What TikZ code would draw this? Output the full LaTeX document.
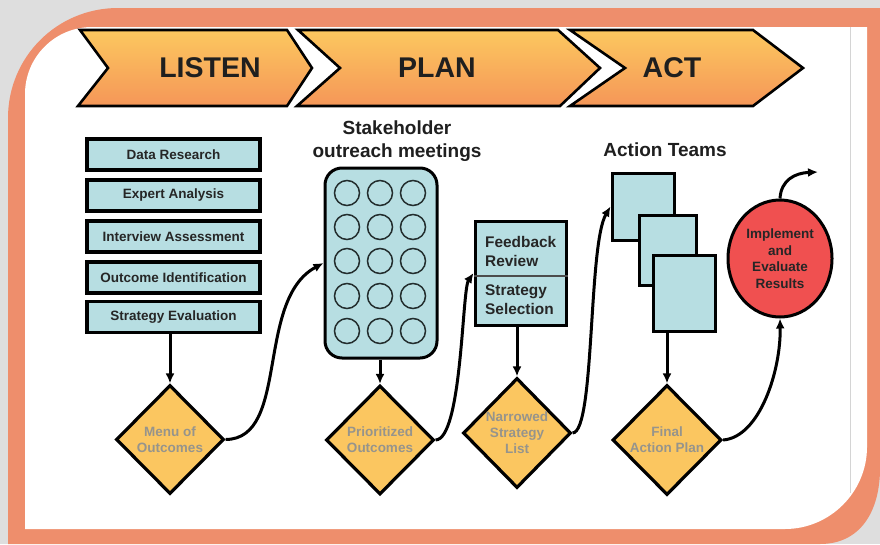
\documentclass[tikz,border=0pt]{standalone}
\usepackage{fontspec}
\setmainfont{Liberation Sans}
\usetikzlibrary{arrows.meta,shapes.geometric}
\definecolor{bggray}{RGB}{222,222,222}
\definecolor{frameor}{RGB}{238,142,108}
\definecolor{chevtop}{RGB}{252,200,95}
\definecolor{chevbot}{RGB}{245,150,88}
\definecolor{lblue}{RGB}{183,222,226}
\definecolor{dyellow}{RGB}{251,198,96}
\definecolor{dtext}{RGB}{150,148,140}
\definecolor{cred}{RGB}{240,80,80}
\definecolor{lgray}{RGB}{212,212,212}
\definecolor{ringcol}{RGB}{35,45,45}
\tikzset{
  chev/.style={top color=chevtop, bottom color=chevbot, draw=black, line width=2.6pt, line join=miter},
  chevtext/.style={font=\bfseries\fontsize{28.5}{30}\selectfont, inner sep=0pt, text=black!88},
  lbox/.style={draw=black, fill=lblue, line width=3.2pt, minimum width=173pt, minimum height=31pt,
    inner sep=0pt, font=\bfseries\fontsize{13.5}{16}\selectfont, text=black!85},
  diam/.style={diamond, draw=black, fill=dyellow, line width=3.2pt, minimum width=108pt,
    minimum height=109pt, inner sep=0pt, align=center, text=dtext,
    font=\bfseries\fontsize{13.5}{16}\selectfont},
  sqbox/.style={draw=black, fill=lblue, line width=3pt, inner sep=0pt},
  ttl/.style={font=\bfseries\fontsize{19}{23}\selectfont, align=center, inner sep=0pt, text=black!88},
  fbtext/.style={font=\bfseries\fontsize{15.4}{19}\selectfont, align=left, inner sep=0pt, text=black!85},
  ring/.style={draw=ringcol, line width=1.5pt},
  conn/.style={draw=black, line width=3pt, -{Latex[length=10pt,width=9pt]}},
}
\begin{document}
\begin{tikzpicture}[x=1pt,y=-1pt]
\useasboundingbox (0,0) rectangle (880,544);
% background and frame
\fill[bggray] (0,0) rectangle (880,544);
\fill[frameor] (8,544) -- (8,118) .. controls (8,57) and (57,8) .. (118,8) -- (880,8)
  -- (880,468) .. controls (880,512) and (860,544) .. (820,544) -- cycle;
\fill[white] (25,529) -- (25,94) .. controls (25,57) and (55,27) .. (92,27) -- (867,27)
  -- (867,447) .. controls (867,492) and (830,529) .. (785,529) -- cycle;
\draw[lgray, line width=1pt] (850,27) -- (850,493);
% chevrons
\shadedraw[chev] (80,30) -- (287,30) -- (312,68) -- (287,106) -- (78,106) -- (108,68) -- cycle;
\shadedraw[chev] (298,30) -- (558,30) -- (600,68) -- (560,106) -- (297,106) -- (340,68) -- cycle;
\shadedraw[chev] (570,30) -- (753,30) -- (803,68) -- (753,106) -- (570,106) -- (625,68) -- cycle;
\node[chevtext] (tlisten) at (210,68) {LISTEN};
\node[chevtext] (tplan) at (437,68) {PLAN};
\node[chevtext] (tact) at (672,68) {ACT};
% LISTEN column
\node[lbox] (le1) at (173.5,154.5) {Data Research};
\node[lbox] (le2) at (173.5,195.5) {Expert Analysis};
\node[lbox] (le3) at (173.5,236.5) {Interview Assessment};
\node[lbox] (le4) at (173.5,277.5) {Outcome Identification};
\node[lbox] (le5) at (173.5,317) {Strategy Evaluation};
\node[diam] (menu) at (170,439.5) {Menu of\\Outcomes};
% stakeholder
\node[ttl] (sttl) at (397,141) {Stakeholder\\outreach meetings};
\node[draw=black, fill=lblue, line width=3pt, rounded corners=17pt, minimum width=112pt,
  minimum height=190pt, inner sep=0pt] (stake) at (381,263) {};
\foreach \cx in {347,380,413}{
  \foreach \cy in {193,227,261,296,331}{
    \draw[ring] (\cx,\cy) circle[radius=12.5pt];
  }
}
\node[diam] (prio) at (380,440) {Prioritized\\Outcomes};
% feedback box
\node[sqbox, minimum width=91pt, minimum height=104pt] (fbox) at (520.5,273) {};
\draw[black!70, line width=1.2pt] (fbox.west |- 0,276) -- (fbox.east |- 0,276);
\node[fbtext, anchor=west] (fbt1) at (485,251) {Feedback\\Review};
\node[fbtext, anchor=west] (fbt2) at (485,299.5) {Strategy\\Selection};
\node[diam, minimum height=110pt] (narrow) at (517,433) {Narrowed\\Strategy\\List};
% action teams
\node[ttl] (attl) at (665,150) {Action Teams};
\node[sqbox, minimum width=62pt, minimum height=67pt] (a1) at (643,206.5) {};
\node[sqbox, minimum width=57pt, minimum height=70pt] (a2) at (667.5,250) {};
\node[sqbox, minimum width=62pt, minimum height=76pt] (a3) at (684,293) {};
\node[diam, minimum width=109pt, minimum height=110pt] (final) at (667,440) {Final\\Action Plan};
% result
\node[ellipse, draw=black, fill=cred, line width=3pt, minimum width=104pt, minimum height=117pt,
  inner sep=0pt, align=center, text=black!85, font=\bfseries\fontsize{13.5}{16.5}\selectfont]
  (red) at (780,258.5) {Implement\\and\\Evaluate\\Results};
\coordinate (out) at (818,172);
% connectors
\draw[conn] (menu.north |- le5.south) -- (menu.north);
\draw[conn] (prio.north |- stake.south) -- (prio.north);
\draw[conn] (narrow.north |- fbox.south) -- (narrow.north);
\draw[conn] (final.north |- a3.south) -- (final.north);
\draw[conn] (menu.east) .. controls (290,439) and (255,300) .. (stake.west);
\draw[conn] (prio.east) .. controls (462,439) and (462,290) .. (fbox.west);
\draw[conn] (narrow.east) .. controls (595,432) and (588,245) .. (a1.west);
\draw[conn] (final.east) .. controls (760,437) and (781,370) .. (red.south);
\draw[conn] (red.north) .. controls (781,180) and (795,173) .. (out);
\end{tikzpicture}
\end{document}
